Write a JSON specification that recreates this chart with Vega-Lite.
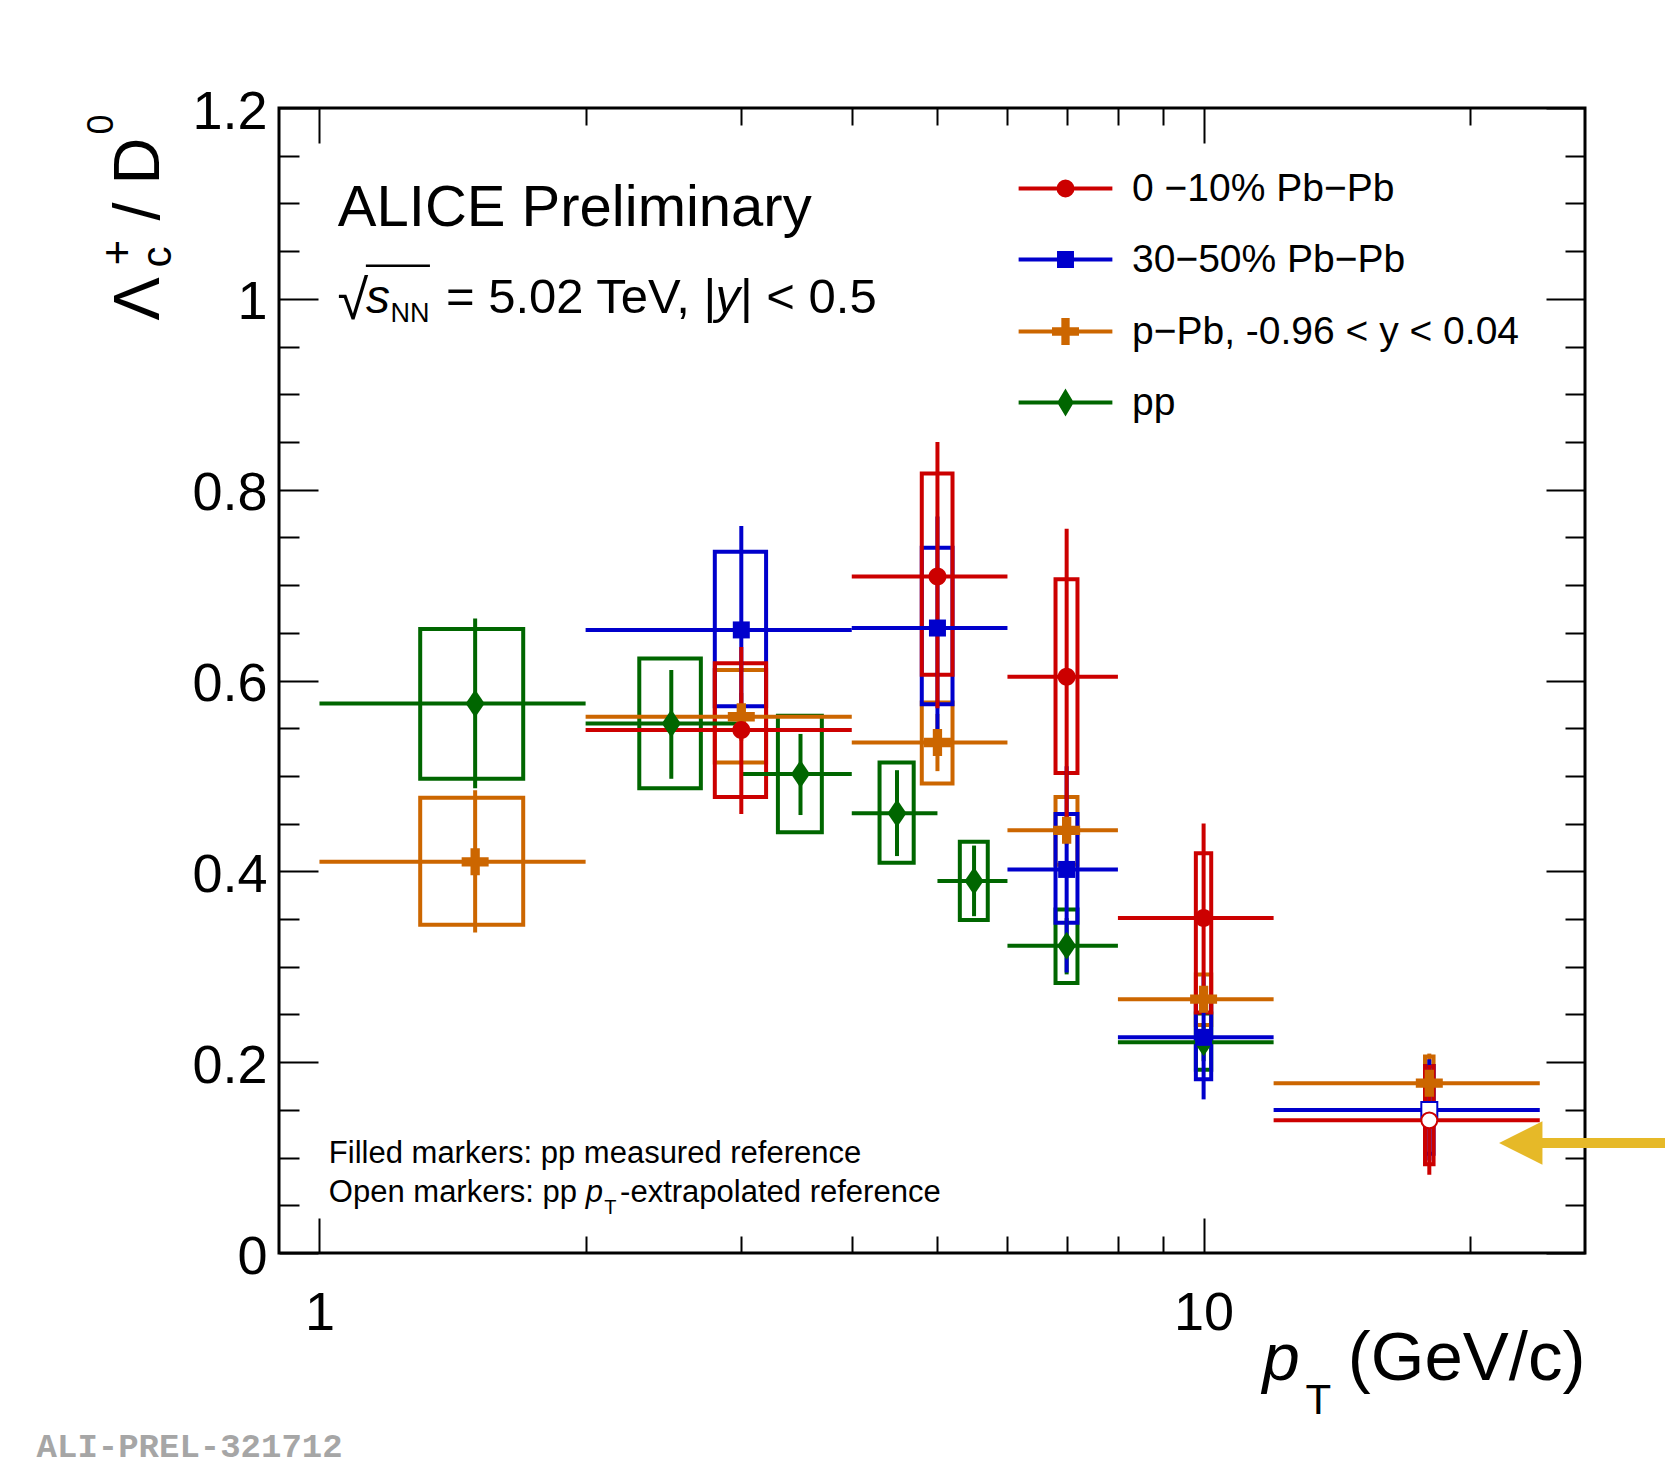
{
  "$schema": "https://vega.github.io/schema/vega-lite/v6.json",
  "width": 1306,
  "height": 1145,
  "autosize": {"type": "none"},
  "padding": {"left": 279, "top": 108, "right": 80, "bottom": 214},
  "background": "white",
  "config": {
    "view": {"stroke": "black", "strokeWidth": 3},
    "font": "Liberation Sans",
    "axis": {
      "domain": false, "grid": false, "tickColor": "black", "tickWidth": 2,
      "labelColor": "black", "labelFont": "Liberation Sans", "titleFont": "Liberation Sans",
      "titleColor": "black", "titleFontWeight": "normal", "titleAlign": "left",
      "titleBaseline": "alphabetic", "titlePadding": 0, "labelFlush": false, "labelOverlap": false,
      "titleLimit": 2000
    }
  },
  "datasets": {
    "ratios": [
      {"series": "pp", "pt": 1.5, "pt_lo": 1, "pt_hi": 2, "ratio": 0.576, "stat_lo": 0.487, "stat_hi": 0.665, "sys_lo": 0.497, "sys_hi": 0.654, "sys_pt_lo": 1.3, "sys_pt_hi": 1.7, "reference": "measured"},
      {"series": "pp", "pt": 2.5, "pt_lo": 2, "pt_hi": 3, "ratio": 0.555, "stat_lo": 0.497, "stat_hi": 0.611, "sys_lo": 0.487, "sys_hi": 0.623, "sys_pt_lo": 2.3, "sys_pt_hi": 2.7, "reference": "measured"},
      {"series": "pp", "pt": 3.5, "pt_lo": 3, "pt_hi": 4, "ratio": 0.502, "stat_lo": 0.459, "stat_hi": 0.544, "sys_lo": 0.441, "sys_hi": 0.563, "sys_pt_lo": 3.3, "sys_pt_hi": 3.7, "reference": "measured"},
      {"series": "pp", "pt": 4.5, "pt_lo": 4, "pt_hi": 5, "ratio": 0.461, "stat_lo": 0.416, "stat_hi": 0.506, "sys_lo": 0.409, "sys_hi": 0.514, "sys_pt_lo": 4.3, "sys_pt_hi": 4.7, "reference": "measured"},
      {"series": "pp", "pt": 5.5, "pt_lo": 5, "pt_hi": 6, "ratio": 0.390, "stat_lo": 0.353, "stat_hi": 0.427, "sys_lo": 0.349, "sys_hi": 0.431, "sys_pt_lo": 5.3, "sys_pt_hi": 5.7, "reference": "measured"},
      {"series": "pp", "pt": 7, "pt_lo": 6, "pt_hi": 8, "ratio": 0.322, "stat_lo": 0.292, "stat_hi": 0.351, "sys_lo": 0.283, "sys_hi": 0.360, "sys_pt_lo": 6.8, "sys_pt_hi": 7.2, "reference": "measured"},
      {"series": "pp", "pt": 10, "pt_lo": 8, "pt_hi": 12, "ratio": 0.221, "stat_lo": 0.201, "stat_hi": 0.241, "sys_lo": 0.192, "sys_hi": 0.251, "sys_pt_lo": 9.8, "sys_pt_hi": 10.2, "reference": "measured"},
      {"series": "p−Pb, -0.96 < y < 0.04", "pt": 1.5, "pt_lo": 1, "pt_hi": 2, "ratio": 0.410, "stat_lo": 0.336, "stat_hi": 0.485, "sys_lo": 0.344, "sys_hi": 0.477, "sys_pt_lo": 1.3, "sys_pt_hi": 1.7, "reference": "measured"},
      {"series": "p−Pb, -0.96 < y < 0.04", "pt": 3, "pt_lo": 2, "pt_hi": 4, "ratio": 0.562, "stat_lo": 0.537, "stat_hi": 0.587, "sys_lo": 0.514, "sys_hi": 0.611, "sys_pt_lo": 2.8, "sys_pt_hi": 3.2, "reference": "measured"},
      {"series": "p−Pb, -0.96 < y < 0.04", "pt": 5, "pt_lo": 4, "pt_hi": 6, "ratio": 0.535, "stat_lo": 0.505, "stat_hi": 0.565, "sys_lo": 0.492, "sys_hi": 0.577, "sys_pt_lo": 4.8, "sys_pt_hi": 5.2, "reference": "measured"},
      {"series": "p−Pb, -0.96 < y < 0.04", "pt": 7, "pt_lo": 6, "pt_hi": 8, "ratio": 0.443, "stat_lo": 0.428, "stat_hi": 0.458, "sys_lo": 0.407, "sys_hi": 0.478, "sys_pt_lo": 6.8, "sys_pt_hi": 7.2, "reference": "measured"},
      {"series": "p−Pb, -0.96 < y < 0.04", "pt": 10, "pt_lo": 8, "pt_hi": 12, "ratio": 0.266, "stat_lo": 0.252, "stat_hi": 0.279, "sys_lo": 0.239, "sys_hi": 0.292, "sys_pt_lo": 9.8, "sys_pt_hi": 10.2, "reference": "measured"},
      {"series": "p−Pb, -0.96 < y < 0.04", "pt": 18, "pt_lo": 12, "pt_hi": 24, "ratio": 0.178, "stat_lo": 0.147, "stat_hi": 0.209, "sys_lo": 0.151, "sys_hi": 0.206, "sys_pt_lo": 17.8, "sys_pt_hi": 18.2, "reference": "measured"},
      {"series": "30−50% Pb−Pb", "pt": 3, "pt_lo": 2, "pt_hi": 4, "ratio": 0.653, "stat_lo": 0.545, "stat_hi": 0.762, "sys_lo": 0.573, "sys_hi": 0.735, "sys_pt_lo": 2.8, "sys_pt_hi": 3.2, "reference": "measured"},
      {"series": "30−50% Pb−Pb", "pt": 5, "pt_lo": 4, "pt_hi": 6, "ratio": 0.655, "stat_lo": 0.538, "stat_hi": 0.772, "sys_lo": 0.575, "sys_hi": 0.739, "sys_pt_lo": 4.8, "sys_pt_hi": 5.2, "reference": "measured"},
      {"series": "30−50% Pb−Pb", "pt": 7, "pt_lo": 6, "pt_hi": 8, "ratio": 0.402, "stat_lo": 0.294, "stat_hi": 0.510, "sys_lo": 0.346, "sys_hi": 0.460, "sys_pt_lo": 6.8, "sys_pt_hi": 7.2, "reference": "measured"},
      {"series": "30−50% Pb−Pb", "pt": 10, "pt_lo": 8, "pt_hi": 12, "ratio": 0.226, "stat_lo": 0.161, "stat_hi": 0.290, "sys_lo": 0.182, "sys_hi": 0.268, "sys_pt_lo": 9.8, "sys_pt_hi": 10.2, "reference": "measured"},
      {"series": "30−50% Pb−Pb", "pt": 18, "pt_lo": 12, "pt_hi": 24, "ratio": 0.150, "stat_lo": 0.097, "stat_hi": 0.203, "sys_lo": 0.104, "sys_hi": 0.196, "sys_pt_lo": 17.8, "sys_pt_hi": 18.2, "reference": "extrapolated"},
      {"series": "0 −10% Pb−Pb", "pt": 3, "pt_lo": 2, "pt_hi": 4, "ratio": 0.548, "stat_lo": 0.460, "stat_hi": 0.635, "sys_lo": 0.478, "sys_hi": 0.618, "sys_pt_lo": 2.8, "sys_pt_hi": 3.2, "reference": "measured"},
      {"series": "0 −10% Pb−Pb", "pt": 5, "pt_lo": 4, "pt_hi": 6, "ratio": 0.709, "stat_lo": 0.571, "stat_hi": 0.850, "sys_lo": 0.606, "sys_hi": 0.817, "sys_pt_lo": 4.8, "sys_pt_hi": 5.2, "reference": "measured"},
      {"series": "0 −10% Pb−Pb", "pt": 7, "pt_lo": 6, "pt_hi": 8, "ratio": 0.604, "stat_lo": 0.447, "stat_hi": 0.759, "sys_lo": 0.503, "sys_hi": 0.706, "sys_pt_lo": 6.8, "sys_pt_hi": 7.2, "reference": "measured"},
      {"series": "0 −10% Pb−Pb", "pt": 10, "pt_lo": 8, "pt_hi": 12, "ratio": 0.351, "stat_lo": 0.252, "stat_hi": 0.450, "sys_lo": 0.252, "sys_hi": 0.419, "sys_pt_lo": 9.8, "sys_pt_hi": 10.2, "reference": "measured"},
      {"series": "0 −10% Pb−Pb", "pt": 18, "pt_lo": 12, "pt_hi": 24, "ratio": 0.139, "stat_lo": 0.082, "stat_hi": 0.197, "sys_lo": 0.093, "sys_hi": 0.196, "sys_pt_lo": 17.8, "sys_pt_hi": 18.2, "reference": "extrapolated"}
    ]
  },
  "resolve": {
    "axis": {"x": "independent", "y": "independent"},
    "scale": {"color": "independent", "shape": "independent", "size": "independent", "fill": "independent", "stroke": "independent"}
  },
  "layer": [
    {
      "data": {"name": "ratios"},
      "mark": {"type": "rect", "filled": false, "strokeWidth": 4},
      "encoding": {
        "x": {"field": "sys_pt_lo", "type": "quantitative",
          "scale": {"type": "log", "domain": [0.9, 27], "nice": false},
          "axis": {"orient": "bottom", "values": [1, 10], "format": "d", "tickSize": -35,
            "labelFontSize": 54, "labelPadding": 68,
            "title": "p", "titleFontSize": 67, "titleFontStyle": "italic",
            "titleX": 983, "titleY": 126, "titleAngle": 0}},
        "x2": {"field": "sys_pt_hi"},
        "y": {"field": "sys_lo", "type": "quantitative",
          "scale": {"domain": [0, 1.2], "nice": false, "zero": false},
          "axis": {"orient": "left", "values": [0, 0.2, 0.4, 0.6, 0.8, 1, 1.2], "format": ".1~f",
            "tickSize": -39, "labelFontSize": 54, "labelPadding": 51, "labelOffset": 4,
            "title": "Λ", "titleFontSize": 65, "titleX": -121, "titleY": 212, "titleAngle": -90}},
        "y2": {"field": "sys_hi"},
        "color": {"field": "series", "type": "nominal", "legend": null,
          "scale": {"domain": ["0 −10% Pb−Pb", "30−50% Pb−Pb", "p−Pb, -0.96 < y < 0.04", "pp"],
            "range": ["#cc0000", "#0000cc", "#cc6600", "#006600"]}}
      }
    },
    {
      "data": {"name": "ratios"},
      "mark": {"type": "rule", "strokeWidth": 4},
      "encoding": {
        "x": {"field": "pt_lo", "type": "quantitative",
          "axis": {"orient": "bottom", "values": [2, 3, 4, 5, 6, 7, 8, 9, 20], "tickSize": -17, "labels": false,
            "title": "T", "titleFontSize": 42, "titleX": 1026, "titleY": 160, "titleAngle": 0}},
        "x2": {"field": "pt_hi"},
        "y": {"field": "ratio", "type": "quantitative",
          "axis": {"orient": "left", "values": [0.05, 0.1, 0.15, 0.25, 0.3, 0.35, 0.45, 0.5, 0.55, 0.65, 0.7, 0.75, 0.85, 0.9, 0.95, 1.05, 1.1, 1.15],
            "tickSize": -20, "labels": false,
            "title": "c", "titleFontSize": 42, "titleX": -109, "titleY": 159, "titleAngle": -90}},
        "color": {"field": "series", "type": "nominal", "legend": null,
          "scale": {"domain": ["0 −10% Pb−Pb", "30−50% Pb−Pb", "p−Pb, -0.96 < y < 0.04", "pp"],
            "range": ["#cc0000", "#0000cc", "#cc6600", "#006600"]}}
      }
    },
    {
      "data": {"name": "ratios"},
      "mark": {"type": "rule", "strokeWidth": 4},
      "encoding": {
        "x": {"field": "pt", "type": "quantitative",
          "axis": {"orient": "top", "values": [1, 10], "tickSize": -35, "labels": false,
            "title": "(GeV/c)", "titleFontSize": 69, "titleAlign": "right", "titleX": 1306, "titleY": 1271, "titleAngle": 0}},
        "y": {"field": "stat_lo", "type": "quantitative",
          "axis": {"orient": "right", "values": [0, 0.2, 0.4, 0.6, 0.8, 1, 1.2], "tickSize": -39, "labels": false,
            "title": "+", "titleFontSize": 44, "titleX": -1454, "titleY": 157, "titleAngle": -90}},
        "y2": {"field": "stat_hi"},
        "color": {"field": "series", "type": "nominal", "legend": null,
          "scale": {"domain": ["0 −10% Pb−Pb", "30−50% Pb−Pb", "p−Pb, -0.96 < y < 0.04", "pp"],
            "range": ["#cc0000", "#0000cc", "#cc6600", "#006600"]}}
      }
    },
    {
      "data": {"name": "ratios"},
      "transform": [{"filter": "datum.reference == 'measured'"}],
      "mark": {"type": "point", "filled": true, "opacity": 1, "strokeWidth": 0, "size": 784},
      "encoding": {
        "x": {"field": "pt", "type": "quantitative",
          "axis": {"orient": "top", "values": [2, 3, 4, 5, 6, 7, 8, 9, 20], "tickSize": -17, "labels": false,
            "title": "0", "titleFontSize": 36, "titleX": -167, "titleY": 26, "titleAngle": -90}},
        "y": {"field": "ratio", "type": "quantitative",
          "axis": {"orient": "right", "values": [0.05, 0.1, 0.15, 0.25, 0.3, 0.35, 0.45, 0.5, 0.55, 0.65, 0.7, 0.75, 0.85, 0.9, 0.95, 1.05, 1.1, 1.15],
            "tickSize": -20, "labels": false,
            "title": "/ D", "titleFontSize": 65, "titleX": -1427, "titleY": 112, "titleAngle": -90}},
        "color": {"field": "series", "type": "nominal", "legend": null,
          "scale": {"domain": ["0 −10% Pb−Pb", "30−50% Pb−Pb", "p−Pb, -0.96 < y < 0.04", "pp"],
            "range": ["#cc0000", "#0000cc", "#cc6600", "#006600"]}},
        "shape": {"field": "series", "type": "nominal", "legend": null,
          "scale": {"domain": ["0 −10% Pb−Pb", "30−50% Pb−Pb", "p−Pb, -0.96 < y < 0.04", "pp"],
            "range": [
              "M-0.643,0A0.643,0.643,0,1,0,0.643,0A0.643,0.643,0,1,0,-0.643,0Z",
              "M-0.607,-0.607H0.607V0.607H-0.607Z",
              "M-0.964,-0.332H-0.332V-0.964H0.332V-0.332H0.964V0.332H0.332V0.964H-0.332V0.332H-0.964Z",
              "M0,-1L0.68,0L0,1L-0.68,0Z"]}}
      }
    },
    {
      "data": {"name": "ratios"},
      "transform": [{"filter": "datum.reference == 'extrapolated'"}],
      "mark": {"type": "point", "filled": false, "fill": "white", "opacity": 1, "strokeWidth": 2, "size": 784},
      "encoding": {
        "x": {"field": "pt", "type": "quantitative", "axis": null},
        "y": {"field": "ratio", "type": "quantitative", "axis": null},
        "color": {"field": "series", "type": "nominal", "legend": null,
          "scale": {"domain": ["0 −10% Pb−Pb", "30−50% Pb−Pb", "p−Pb, -0.96 < y < 0.04", "pp"],
            "range": ["#cc0000", "#0000cc", "#cc6600", "#006600"]}},
        "shape": {"field": "series", "type": "nominal", "legend": null,
          "scale": {"domain": ["0 −10% Pb−Pb", "30−50% Pb−Pb", "p−Pb, -0.96 < y < 0.04", "pp"],
            "range": [
              "M-0.571,0A0.571,0.571,0,1,0,0.571,0A0.571,0.571,0,1,0,-0.571,0Z",
              "M-0.571,-0.571H0.571V0.571H-0.571Z",
              "M-0.571,0A0.571,0.571,0,1,0,0.571,0A0.571,0.571,0,1,0,-0.571,0Z",
              "M-0.571,0A0.571,0.571,0,1,0,0.571,0A0.571,0.571,0,1,0,-0.571,0Z"]}}
      }
    },
    {
      "data": {"values": []},
      "mark": {"type": "point", "filled": true, "strokeWidth": 4, "size": 256, "opacity": 1},
      "encoding": {
        "fill": {"field": "series", "type": "nominal",
          "scale": {"domain": ["0 −10% Pb−Pb", "30−50% Pb−Pb", "p−Pb, -0.96 < y < 0.04", "pp"],
            "range": ["#cc0000", "#0000cc", "#cc6600", "#006600"]},
          "legend": {"orient": "none", "legendX": 767, "legendY": 61, "padding": 0, "title": null,
            "labelFont": "Liberation Sans", "labelFontSize": 39, "labelColor": "black", "labelOffset": 47,
            "labelLimit": 2000, "rowPadding": 31, "symbolSize": 256, "symbolStrokeWidth": 4, "symbolOpacity": 1}},
        "stroke": {"field": "series", "type": "nominal",
          "scale": {"domain": ["0 −10% Pb−Pb", "30−50% Pb−Pb", "p−Pb, -0.96 < y < 0.04", "pp"],
            "range": ["#cc0000", "#0000cc", "#cc6600", "#006600"]},
          "legend": {"orient": "none", "legendX": 767, "legendY": 61, "padding": 0, "title": null,
            "labelFont": "Liberation Sans", "labelFontSize": 39, "labelColor": "black", "labelOffset": 47,
            "labelLimit": 2000, "rowPadding": 31, "symbolSize": 256, "symbolStrokeWidth": 4, "symbolOpacity": 1}},
        "shape": {"field": "series", "type": "nominal",
          "scale": {"domain": ["0 −10% Pb−Pb", "30−50% Pb−Pb", "p−Pb, -0.96 < y < 0.04", "pp"],
            "range": [
              "M-5.86,0H5.86M-0.875,0A0.875,0.875,0,1,0,0.875,0A0.875,0.875,0,1,0,-0.875,0Z",
              "M-5.86,0H5.86M-0.81,-0.81H0.81V0.81H-0.81Z",
              "M-5.86,0H5.86M-1.44,-0.27H-0.27V-1.44H0.27V-0.27H1.44V0.27H0.27V1.44H-0.27V0.27H-1.44Z",
              "M-5.86,0H5.86M0,-1.25L0.75,0L0,1.25L-0.75,0Z"]},
          "legend": {"orient": "none", "legendX": 767, "legendY": 61, "padding": 0, "title": null,
            "labelFont": "Liberation Sans", "labelFontSize": 39, "labelColor": "black", "labelOffset": 47,
            "labelLimit": 2000, "rowPadding": 31, "symbolSize": 256, "symbolStrokeWidth": 4, "symbolOpacity": 1}}
      }
    },
    {
      "data": {"values": [{"label": "ALICE Preliminary"}]},
      "mark": {"type": "text", "font": "Liberation Sans", "fontSize": 58, "align": "left", "baseline": "alphabetic", "color": "black"},
      "encoding": {"text": {"field": "label"}, "x": {"datum": 1.0491, "type": "quantitative", "axis": null}, "y": {"datum": 1.0759, "type": "quantitative", "axis": null}}
    },
    {
      "data": {"values": [{"label": "√"}]},
      "mark": {"type": "text", "font": "Liberation Sans", "fontSize": 56, "align": "left", "baseline": "alphabetic", "color": "black"},
      "encoding": {"text": {"field": "label"}, "x": {"datum": 1.048, "type": "quantitative", "axis": null}, "y": {"datum": 0.979, "type": "quantitative", "axis": null}}
    },
    {
      "data": {"values": [{"label": "overline"}]},
      "mark": {"type": "rule", "strokeWidth": 2.5, "color": "black"},
      "encoding": {"x": {"datum": 1.1285, "type": "quantitative", "axis": null}, "x2": {"datum": 1.3334}, "y": {"datum": 1.0347, "type": "quantitative", "axis": null}}
    },
    {
      "data": {"values": [{"label": "s"}]},
      "mark": {"type": "text", "font": "Liberation Sans", "fontSize": 48, "fontStyle": "italic", "align": "left", "baseline": "alphabetic", "color": "black"},
      "encoding": {"text": {"field": "label"}, "x": {"datum": 1.1285, "type": "quantitative", "axis": null}, "y": {"datum": 0.985, "type": "quantitative", "axis": null}}
    },
    {
      "data": {"values": [{"label": "NN"}]},
      "mark": {"type": "text", "font": "Liberation Sans", "fontSize": 27, "align": "left", "baseline": "alphabetic", "color": "black"},
      "encoding": {"text": {"field": "label"}, "x": {"datum": 1.2036, "type": "quantitative", "axis": null}, "y": {"datum": 0.9753, "type": "quantitative", "axis": null}}
    },
    {
      "data": {"values": [{"label": "= 5.02 TeV, |"}]},
      "mark": {"type": "text", "font": "Liberation Sans", "fontSize": 49, "align": "left", "baseline": "alphabetic", "color": "black"},
      "encoding": {"text": {"field": "label"}, "x": {"datum": 1.39, "type": "quantitative", "axis": null}, "y": {"datum": 0.985, "type": "quantitative", "axis": null}}
    },
    {
      "data": {"values": [{"label": "y"}]},
      "mark": {"type": "text", "font": "Liberation Sans", "fontSize": 49, "fontStyle": "italic", "align": "left", "baseline": "alphabetic", "color": "black"},
      "encoding": {"text": {"field": "label"}, "x": {"datum": 2.805, "type": "quantitative", "axis": null}, "y": {"datum": 0.985, "type": "quantitative", "axis": null}}
    },
    {
      "data": {"values": [{"label": "| < 0.5"}]},
      "mark": {"type": "text", "font": "Liberation Sans", "fontSize": 49, "align": "left", "baseline": "alphabetic", "color": "black"},
      "encoding": {"text": {"field": "label"}, "x": {"datum": 2.99, "type": "quantitative", "axis": null}, "y": {"datum": 0.985, "type": "quantitative", "axis": null}}
    },
    {
      "data": {"values": [{"label": "Filled markers: pp measured reference"}]},
      "mark": {"type": "text", "font": "Liberation Sans", "fontSize": 31, "align": "left", "baseline": "alphabetic", "color": "black"},
      "encoding": {"text": {"field": "label"}, "x": {"datum": 1.0248, "type": "quantitative", "axis": null}, "y": {"datum": 0.094, "type": "quantitative", "axis": null}}
    },
    {
      "data": {"values": [{"label": "Open markers: pp"}]},
      "mark": {"type": "text", "font": "Liberation Sans", "fontSize": 31, "align": "left", "baseline": "alphabetic", "color": "black"},
      "encoding": {"text": {"field": "label"}, "x": {"datum": 1.0248, "type": "quantitative", "axis": null}, "y": {"datum": 0.053, "type": "quantitative", "axis": null}}
    },
    {
      "data": {"values": [{"label": "p"}]},
      "mark": {"type": "text", "font": "Liberation Sans", "fontSize": 31, "fontStyle": "italic", "align": "left", "baseline": "alphabetic", "color": "black"},
      "encoding": {"text": {"field": "label"}, "x": {"datum": 2.0006, "type": "quantitative", "axis": null}, "y": {"datum": 0.053, "type": "quantitative", "axis": null}}
    },
    {
      "data": {"values": [{"label": "T"}]},
      "mark": {"type": "text", "font": "Liberation Sans", "fontSize": 20, "align": "left", "baseline": "alphabetic", "color": "black"},
      "encoding": {"text": {"field": "label"}, "x": {"datum": 2.099, "type": "quantitative", "axis": null}, "y": {"datum": 0.0405, "type": "quantitative", "axis": null}}
    },
    {
      "data": {"values": [{"label": "-extrapolated reference"}]},
      "mark": {"type": "text", "font": "Liberation Sans", "fontSize": 31, "align": "left", "baseline": "alphabetic", "color": "black"},
      "encoding": {"text": {"field": "label"}, "x": {"datum": 2.188, "type": "quantitative", "axis": null}, "y": {"datum": 0.053, "type": "quantitative", "axis": null}}
    },
    {
      "data": {"values": [{"label": "ALI-PREL-321712"}]},
      "mark": {"type": "text", "font": "Liberation Mono", "fontSize": 34, "fontWeight": "bold", "align": "left", "baseline": "alphabetic", "color": "#a6a6a6"},
      "encoding": {"text": {"field": "label"}, "x": {"datum": 0.4787, "type": "quantitative", "axis": null}, "y": {"datum": -0.2135, "type": "quantitative", "axis": null}}
    },
    {
      "data": {"values": [{"label": "arrow"}]},
      "mark": {"type": "rule", "strokeWidth": 10, "color": "#e6b928"},
      "encoding": {"x": {"datum": 23.6, "type": "quantitative", "axis": null}, "x2": {"datum": 40}, "y": {"datum": 0.1153, "type": "quantitative", "axis": null}}
    },
    {
      "data": {"values": [{"label": "arrow"}]},
      "mark": {"type": "point", "shape": "M-1,0L1,-1L1,1Z", "size": 1884, "filled": true, "opacity": 1, "color": "#e6b928", "strokeWidth": 0},
      "encoding": {"x": {"datum": 22.84, "type": "quantitative", "axis": null}, "y": {"datum": 0.1153, "type": "quantitative", "axis": null}}
    }
  ]
}
